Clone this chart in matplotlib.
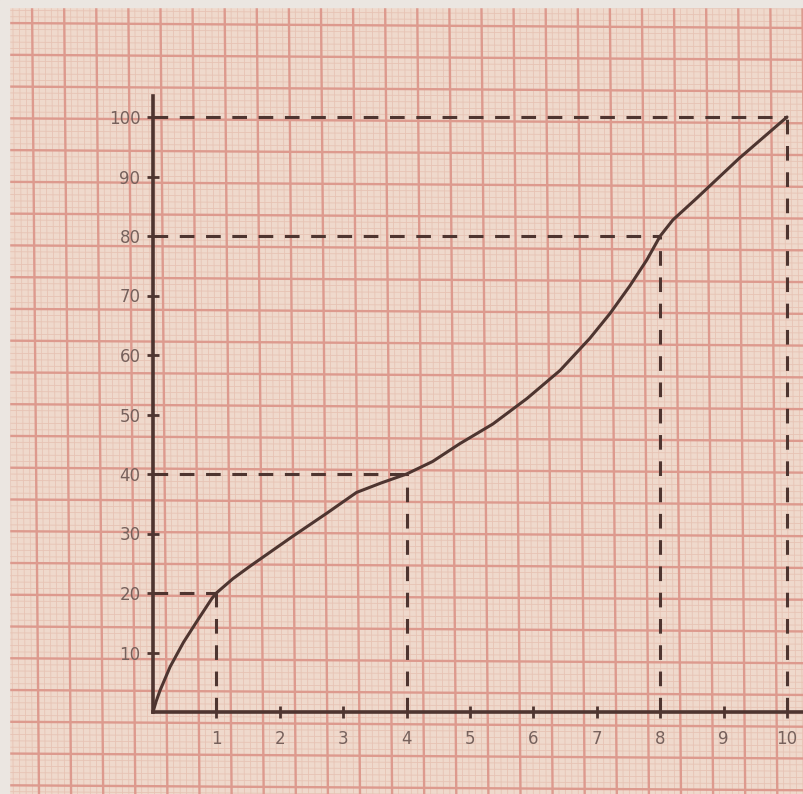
"""Hand-drawn cumulative curve on graph paper."""

import matplotlib.pyplot as plt
import numpy as np
from matplotlib.collections import LineCollection

# values
curve_x = [0, 0.05, 0.11, 0.27, 0.48, 0.69, 0.93, 1.0, 1.26, 1.53, 2.2, 2.74, 3.21, 3.6, 4.0,
           4.41, 4.84, 5.36, 5.9, 6.42, 6.89, 7.21, 7.52, 7.79, 8.0, 8.2, 8.57, 9.24, 10.0]
curve_y = [0, 1.8, 3.6, 7.6, 11.7, 15.2, 19.1, 20, 22.4, 24.5, 29.5, 33.4, 36.9, 38.5, 40,
           42.1, 45.1, 48.4, 52.7, 57.4, 62.8, 67.0, 71.6, 76.0, 80, 82.7, 86.3, 93, 100]
guide_x = [1, 4, 8, 10]
guide_y = [20, 40, 80, 100]
x_ticks = list(range(1, 11))
y_ticks = list(range(10, 101, 10))

INK = "#4e3530"
LABEL = "#76615c"
W, H = 804, 794


def draw_paper(bg):
    """Millimetre-style graph paper in pixel coordinates."""
    bg.set_xlim(0, W)
    bg.set_ylim(H, 0)
    bg.axis("off")
    bg.add_patch(plt.Rectangle((0, 0), W, H, color="#efd9cc", zorder=0))
    step_x, step_y = 32.1, 31.76
    for sub, color, lw in ((5, "#e7c3b4", 0.6), (1, "#dd9a8e", 1.7)):
        xs = np.arange(32 - step_x, W + step_x, step_x / sub)
        ys = np.arange(23 - step_y, H + step_y, step_y / sub)
        verticals = [[(x, 0), (x + 7, H)] for x in xs]
        horizontals = [[(0, y), (W, y + 5)] for y in ys]
        bg.add_collection(LineCollection(verticals + horizontals, colors=color, linewidths=lw, zorder=1))
    # pale edge of the sheet
    bg.add_patch(plt.Rectangle((0, 0), W, 7, color="#ebe6e1", zorder=2))
    bg.add_patch(plt.Rectangle((0, 0), 9, H, color="#ebe6e1", zorder=2))


def main() -> None:
    fig = plt.figure(figsize=(W / 100, H / 100), dpi=100)
    bg = fig.add_axes([0, 0, 1, 1])
    draw_paper(bg)

    ax = fig.add_axes([0, 0, 1, 1])
    ax.patch.set_alpha(0)
    sx, sy = 63.4, 5.95
    ax.set_xlim(-153 / sx, (W - 153) / sx)
    ax.set_ylim(-82 / sy, (H - 82) / sy)

    dash = dict(color=INK, linewidth=2.2, linestyles=(0, (4.8, 3.8)), zorder=3)
    ax.vlines(guide_x, 0, guide_y, **dash)
    ax.hlines(guide_y, 0, guide_x, **dash)
    ax.plot(curve_x, curve_y, color=INK, linewidth=2.2, solid_capstyle="round",
            solid_joinstyle="round", zorder=4)

    for side in ("top", "right"):
        ax.spines[side].set_visible(False)
    for side in ("left", "bottom"):
        ax.spines[side].set_position(("data", 0))
        ax.spines[side].set_color(INK)
        ax.spines[side].set_linewidth(2.6)
        ax.spines[side].set_zorder(5)
    ax.spines["left"].set_bounds(0, 103.5)
    ax.spines["bottom"].set_bounds(0, 10.4)

    ax.set_xticks(x_ticks)
    ax.set_yticks(y_ticks)
    ax.tick_params(direction="inout", length=8, width=2, color=INK, labelcolor=LABEL, labelsize=12)
    ax.tick_params(axis="x", pad=9)
    ax.tick_params(axis="y", pad=5)
    for label in ax.get_xticklabels() + ax.get_yticklabels():
        label.set_fontfamily("DejaVu Sans")

    fig.savefig("out.png", dpi=100)


if __name__ == "__main__":
    main()
